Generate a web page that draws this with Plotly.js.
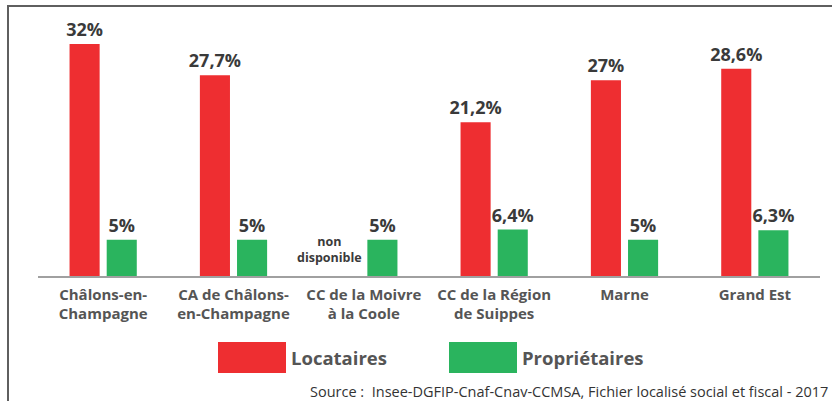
<!DOCTYPE html>
<html>
<head>
<meta charset="utf-8">
<script src="https://cdn.plot.ly/plotly-3.0.1.min.js"></script>
<style>
  html, body { margin: 0; padding: 0; background: #fff; }
  #wrap { position: relative; width: 832px; height: 401px; overflow: hidden; }
  #chart { position: absolute; left: 0; top: 0; width: 832px; height: 401px; }
  #frame { position: absolute; left: 7px; top: 5px; width: 900px; height: 500px;
           border-left: 2px solid #5f5f5f; border-top: 2px solid #5f5f5f; pointer-events: none; }
</style>
</head>
<body>
<div id="wrap">
  <div id="chart"></div>
  <div id="frame"></div>
</div>
<script>
// ---- data ----
const categories = [
  "Châlons-en-<br>Champagne",
  "CA de Châlons-<br>en-Champagne",
  "CC de la Moivre<br>à la Coole",
  "CC de la Région<br>de Suippes",
  "Marne",
  "Grand Est"
];
const locataires = [32, 27.7, null, 21.2, 27, 28.6];
const locatairesLabels = ["32%", "27,7%", "", "21,2%", "27%", "28,6%"];
const proprietaires = [5, 5, 5, 6.4, 5, 6.3];
const proprietairesLabels = ["5%", "5%", "5%", "6,4%", "5%", "6,3%"];
const seriesNames = ["Locataires", "Propriétaires"];
const seriesColors = ["#EE2E31", "#2AB45E"];
const missingNote = "non<br>disponible";
const missingIndex = 2;
const sourceText = "Source :  Insee-DGFIP-Cnaf-Cnav-CCMSA, Fichier localisé social et fiscal - 2017";

// ---- layout helpers (pixel -> paper) ----
const W = 832, H = 401, L = 38, R = 12, T = 20, B = 125;
const pw = W - L - R, ph = H - T - B;
const px = x => (x - L) / pw;
const py = y => (H - B - y) / ph;

const FONT = "Open Sans, sans-serif";
const labelColor = "#3a3a3a";

const traces = [
  {
    type: "bar", x: categories, y: locataires, name: seriesNames[0],
    marker: { color: seriesColors[0] },
    text: locatairesLabels, textposition: "outside", cliponaxis: false, constraintext: "none",
    textfont: { family: FONT, size: 18, color: labelColor, weight: "bold" },
    hoverinfo: "none"
  },
  {
    type: "bar", x: categories, y: proprietaires, name: seriesNames[1],
    marker: { color: seriesColors[1] },
    text: proprietairesLabels, textposition: "outside", cliponaxis: false, constraintext: "none",
    textfont: { family: FONT, size: 18, color: labelColor, weight: "bold" },
    hoverinfo: "none"
  }
];

const layout = {
  width: W, height: H,
  margin: { l: L, r: R, t: T, b: B, pad: 0 },
  paper_bgcolor: "#ffffff", plot_bgcolor: "#ffffff",
  showlegend: false,
  barmode: "group", bargap: 0.43, bargroupgap: 0.19,
  uniformtext: { mode: false },
  font: { family: FONT, color: "#555" },
  xaxis: {
    type: "category",
    showline: true, linecolor: "#a0a0a0", linewidth: 1.5,
    ticks: "", showgrid: false, zeroline: false,
    tickfont: { family: FONT, size: 15, color: "#555", weight: "bold" },
    ticklabelstandoff: 4,
    fixedrange: true
  },
  yaxis: {
    range: [0, ph / 7.25], visible: false, showgrid: false, zeroline: false, fixedrange: true
  },
  shapes: [
    { type: "rect", xref: "paper", yref: "paper", x0: px(218), x1: px(286), y0: py(373), y1: py(342),
      fillcolor: seriesColors[0], line: { width: 0 } },
    { type: "rect", xref: "paper", yref: "paper", x0: px(449), x1: px(517), y0: py(373), y1: py(342),
      fillcolor: seriesColors[1], line: { width: 0 } }
  ],
  annotations: [
    { text: seriesNames[0], xref: "paper", yref: "paper", x: px(289), y: py(357),
      xanchor: "left", yanchor: "middle", showarrow: false,
      font: { family: FONT, size: 18.5, color: "#555", weight: "bold" } },
    { text: seriesNames[1], xref: "paper", yref: "paper", x: px(520), y: py(357),
      xanchor: "left", yanchor: "middle", showarrow: false,
      font: { family: FONT, size: 18.5, color: "#555", weight: "bold" } },
    { text: missingNote, xref: "x", yref: "y", x: categories[missingIndex], y: 0,
      xshift: -34, yshift: 8, xanchor: "center", yanchor: "bottom", showarrow: false,
      font: { family: FONT, size: 12.5, color: labelColor, weight: "bold" } },
    { text: sourceText, xref: "paper", yref: "paper", x: px(830), y: py(391),
      xanchor: "right", yanchor: "middle", showarrow: false,
      font: { family: FONT, size: 14.5, color: "#333" } }
  ]
};

Plotly.newPlot("chart", traces, layout, { staticPlot: true, displayModeBar: false });
</script>
</body>
</html>
